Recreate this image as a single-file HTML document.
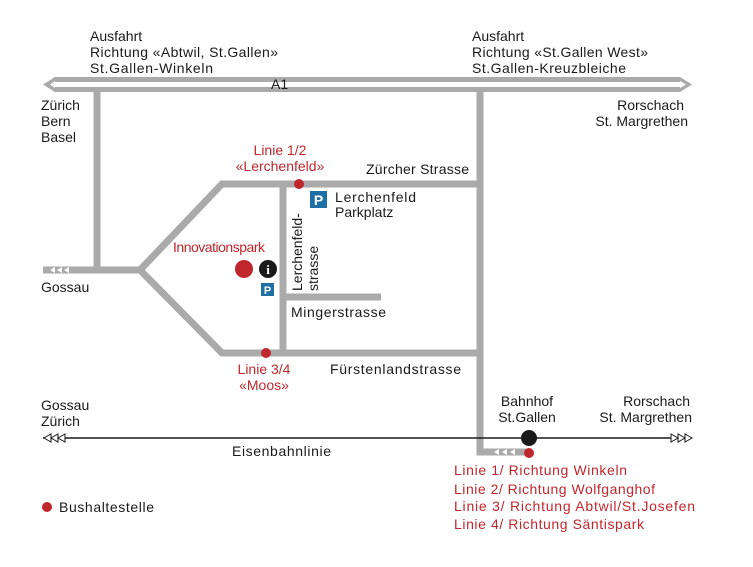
<!DOCTYPE html>
<html><head><style>
html,body{margin:0;padding:0;background:#fff;}
svg{display:block;font-family:"Liberation Sans",sans-serif;}
.t{font-size:14px;fill:#1a1a1a;}
.r{font-size:14px;fill:#c0272d;}
</style></head><body>
<svg width="753" height="567" viewBox="0 0 753 567">
<g stroke="#aaaaaa" stroke-width="7" fill="none" stroke-linejoin="miter">
<line x1="43" y1="79.5" x2="692" y2="79.5" stroke-width="5"/>
<line x1="43" y1="89.5" x2="692" y2="89.5" stroke-width="5"/>
<line x1="97" y1="90" x2="97" y2="270"/>
<polyline points="43,270 140,270 222,184 480,184"/>
<polyline points="140,270 222,353 480,353"/>
<line x1="480" y1="90" x2="480" y2="455"/>
<line x1="476.5" y1="452" x2="530" y2="452"/>
<line x1="283" y1="184" x2="283" y2="353"/>
<line x1="283" y1="297" x2="381" y2="297"/>
</g>
<rect x="42" y="76" width="12" height="17" fill="#fff"/>
<polygon points="43,84.5 55,77 55,92" fill="#aaa"/>
<polygon points="50,84.5 55,81 55,88" fill="#fff"/>
<rect x="680" y="76" width="13" height="17" fill="#fff"/>
<polygon points="692,84.5 680,77 680,92" fill="#aaa"/>
<polygon points="686,84.5 680,81 680,88" fill="#fff"/>
<rect x="270" y="82" width="20" height="5" fill="#fff"/>
<text x="271" y="89" class="t" font-size="12">A1</text>
<g fill="#fff"><polygon points="50,270 55,267 55,273"/><polygon points="57,270 62,267 62,273"/><polygon points="64,270 69,267 69,273"/></g>
<g fill="#fff"><polygon points="494,452 499,449 499,455"/><polygon points="502,452 507,449 507,455"/><polygon points="510,452 515,449 515,455"/></g>
<line x1="43" y1="438" x2="692" y2="438" stroke="#1a1a1a" stroke-width="1.5"/>
<g fill="#fff" stroke="#1a1a1a" stroke-width="1"><polygon points="44,438 51,434 51,442"/><polygon points="51,438 58,434 58,442"/><polygon points="58,438 65,434 65,442"/>
<polygon points="692,438 685,434 685,442"/><polygon points="685,438 678,434 678,442"/><polygon points="678,438 671,434 671,442"/></g>
<circle cx="529" cy="438" r="8" fill="#1a1a1a"/>
<g fill="#c0272d"><circle cx="529" cy="453" r="5"/><circle cx="299" cy="184" r="5"/><circle cx="266" cy="353" r="5"/><circle cx="244" cy="269" r="9"/><circle cx="47" cy="507" r="5"/></g>
<circle cx="268" cy="269" r="9" fill="#1a1a1a"/>
<text x="268" y="274" text-anchor="middle" fill="#fff" font-size="13" font-weight="bold" font-family="Liberation Serif">i</text>
<rect x="261" y="283" width="13" height="13" fill="#1d6fa5"/>
<text x="267.5" y="294" text-anchor="middle" fill="#fff" font-size="11" font-weight="bold">P</text>
<rect x="310" y="191" width="17" height="17" fill="#1d6fa5"/>
<text x="318.5" y="205" text-anchor="middle" fill="#fff" font-size="14" font-weight="bold">P</text>
<g class="t">
<text x="90" y="41">Ausfahrt</text><text x="90" y="57" textLength="188">Richtung «Abtwil, St.Gallen»</text><text x="90" y="73" textLength="123">St.Gallen-Winkeln</text>
<text x="472" y="41">Ausfahrt</text><text x="472" y="57" textLength="176">Richtung «St.Gallen West»</text><text x="472" y="73" textLength="154">St.Gallen-Kreuzbleiche</text>
<text x="41" y="110">Zürich</text><text x="41" y="126">Bern</text><text x="41" y="142">Basel</text>
<text x="684" y="110" text-anchor="end">Rorschach</text><text x="688" y="126" text-anchor="end" >St. Margrethen</text>
<text x="366" y="174" textLength="103">Zürcher Strasse</text>
<text x="335" y="202" textLength="81">Lerchenfeld</text><text x="335" y="217">Parkplatz</text>
<text x="41" y="292">Gossau</text>
<text x="291" y="317" textLength="95">Mingerstrasse</text>
<text x="330" y="374" textLength="131">Fürstenlandstrasse</text>
<text x="41" y="410">Gossau</text><text x="41" y="426">Zürich</text>
<text x="527" y="406" text-anchor="middle">Bahnhof</text><text x="527" y="422" text-anchor="middle">St.Gallen</text>
<text x="690" y="406" text-anchor="end">Rorschach</text><text x="692" y="422" text-anchor="end">St. Margrethen</text>
<text x="232" y="456" textLength="99">Eisenbahnlinie</text>
<text x="59" y="512" textLength="95">Bushaltestelle</text>
<text transform="translate(302,291) rotate(-90)">Lerchenfeld-</text>
<text transform="translate(318,291) rotate(-90)">strasse</text>
</g>
<g class="r">
<text x="280" y="155" text-anchor="middle">Linie 1/2</text><text x="280" y="171" text-anchor="middle">«Lerchenfeld»</text>
<text x="173" y="252" textLength="92">Innovationspark</text>
<text x="264" y="374" text-anchor="middle">Linie 3/4</text><text x="264" y="390" text-anchor="middle">«Moos»</text>
<text x="454" y="475" textLength="173">Linie 1/ Richtung Winkeln</text>
<text x="454" y="494" textLength="201">Linie 2/ Richtung Wolfganghof</text>
<text x="454" y="511" textLength="241">Linie 3/ Richtung Abtwil/St.Josefen</text>
<text x="454" y="529" textLength="190">Linie 4/ Richtung Säntispark</text>
</g>
</svg>
</body></html>
